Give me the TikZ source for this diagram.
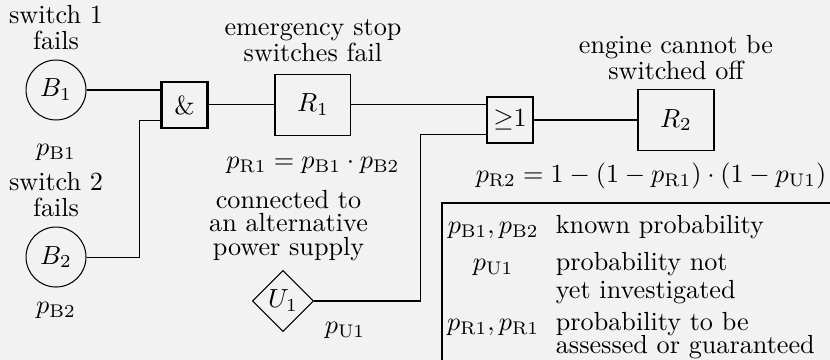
\documentclass[tikz,border=0pt]{standalone}
\usepackage{tikz}
\usepackage{amsmath}
\usepackage{amssymb}
\usetikzlibrary{positioning, calc, shapes.geometric}
\newcommand{\pval}[1]{p_{\mathrm{#1}}}

\begin{document}
\begin{tikzpicture}[
    basicev/.style={circle, draw, minimum size=0.805cm, inner sep=0pt},
    gate/.style={rectangle, draw, line width=0.9pt, minimum size=0.615cm, inner sep=0pt},
    eventbox/.style={rectangle, draw, minimum width=1.02cm, minimum height=0.81cm, inner sep=0pt},
    desc/.style={align=center, font=\fontsize{10pt}{10pt}\selectfont}
]

% Fondo
\useasboundingbox (0,0) rectangle (11.141,-4.832);
\fill[black!5] (0,0) rectangle (11.141,-4.832);
\coordinate (edge) at (11.141,0);

% Eventos basicos
\node[basicev] (B1) at (0.752,-1.208) {$B_1$};
\node[basicev] (B2) at (0.752,-3.450) {$B_2$};
\node[diamond, draw, minimum size=0.82cm, inner sep=0pt] (U1) at (3.799,-4.040) {$U_1$};

% Puertas
\node[gate] (gand) at (2.477,-1.409) {\&};
\node[gate] (gor) at (6.846,-1.611) {${\geq}1$};

% Eventos
\node[eventbox] (R1) at (4.201,-1.409) {$R_1$};
\node[eventbox] (R2) at (9.074,-1.611) {$R_2$};

% Textos
\node[desc, above=0pt of B1] (tB1) {switch 1\\fails};
\node[below=0.19cm of B1] (pB1) {$\pval{B1}$};
\node[desc, above=0pt of B2] (tB2) {switch 2\\fails};
\node[below=0.07cm of B2] (pB2) {$\pval{B2}$};
\node[desc, above=0.04cm of R1] (tR1) {emergency stop\\switches fail};
\node[below=0.16cm of R1] (pR1) {$\pval{R1} = \pval{B1} \cdot \pval{B2}$};
\node[desc, above=0pt of R2] (tR2) {engine cannot be\\switched off};
\node[below=0.04cm of R2, xshift=-0.336cm] (pR2) {$\pval{R2} = 1 - (1 - \pval{R1}) \cdot (1 - \pval{U1})$};
\node[desc, font=\fontsize{10pt}{8.9pt}\selectfont, above=0pt of U1, xshift=0.074cm] (tU1) {connected to\\an alternative\\power supply};
\node[below right=0.16cm and 0.02cm of U1.east] (pU1) {$\pval{U1}$};

% Conexiones
\coordinate (gand-in2) at ($(gand.west)+(0,-0.205)$);
\coordinate (gor-in2) at ($(gor.west)+(0,-0.2)$);
\draw (B1.east) -- (B1.east -| gand.west);
\draw (B2.east) -- ++(0.712,0) |- (gand-in2);
\draw (gand) -- (R1);
\draw (R1.east) -- (R1.east -| gor.west);
\draw (U1.east) -- ++(1.423,0) |- (gor-in2);
\draw (gor) -- (R2);

% Leyenda
\node[anchor=north west, inner xsep=0pt, inner ysep=3pt] (legend) at (5.933,-2.725) {%
\begin{tabular}{@{\hspace{1.8pt}}c@{\hspace{6.4pt}}l}
$\pval{B1}, \pval{B2}$ & known probability\\[2.1pt]
$\pval{U1}$ & probability not\\[-1.3pt]
 & yet investigated\\[0.2pt]
$\pval{R1}, \pval{R1}$ & probability to be\\[-3.2pt]
 & assessed or guaranteed
\end{tabular}};
\draw (legend.south west) -- (legend.north west) -- (legend.north west -| edge);

\end{tikzpicture}
\end{document}
